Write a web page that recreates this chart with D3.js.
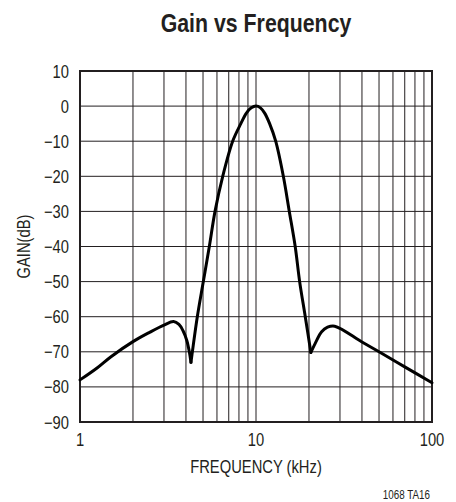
<!DOCTYPE html>
<html>
<head>
<meta charset="utf-8">
<script src="https://cdn.jsdelivr.net/npm/d3@7"></script>
<style>
  html, body { margin: 0; padding: 0; background: #fff; }
  svg { display: block; }
  text { font-family: "Liberation Sans", Arial, sans-serif; fill: #231f20; }
</style>
</head>
<body>
<div id="chart"></div>
<script>
// ---- data ----
const title = "Gain vs Frequency";
const xLabel = "FREQUENCY (kHz)";
const yLabel = "GAIN(dB)";
const footnote = "1068 TA16";
const xTicks = [1, 10, 100];
const yTicks = [10, 0, -10, -20, -30, -40, -50, -60, -70, -80, -90];
const freq = [1, 1.25, 1.5, 2, 2.5, 3, 3.4, 3.65, 3.85, 4.04, 4.18, 4.27,
              4.35, 4.64, 5.02, 5.43, 5.85, 6.47, 7.37, 8.2, 8.82, 9.4, 10, 10.6, 11.2, 11.95, 12.94,
              14.3, 15.46, 16.7, 17.7, 19.05, 20.5,
              21.7, 23.6, 25.5, 28, 40, 50, 70, 100];
const gain = [-78, -74.6, -71.4, -67.1, -64.4, -62.4, -61.4, -62.2, -64, -66.7, -70, -73,
              -70, -60, -50, -40, -30, -20, -10, -5, -2, -0.5, 0, -0.5, -2, -5, -10,
              -20, -30, -40, -50, -60, -70.2,
              -67.6, -64.3, -63.0, -62.7, -67.2, -70.0, -74.3, -78.8];
const notchIdx = [11, 32];

// ---- layout ----
const W = 456, H = 502;
const L = 80, R = 432, T = 71, B = 422;
const NARROW = 0.82;

const svg = d3.select("#chart").append("svg").attr("width", W).attr("height", H);

const x = d3.scaleLog().domain([1, 100]).range([L, R]);
const y = d3.scaleLinear().domain([-90, 10]).range([B, T]);

// grid
const minor = [];
for (let d = 1; d < 100; d *= 10) for (let k = 2; k <= 9; k++) minor.push(d * k);
minor.push(10);
svg.append("g").selectAll("line").data(minor).join("line")
  .attr("x1", d => x(d)).attr("x2", d => x(d)).attr("y1", T).attr("y2", B)
  .attr("stroke", "#231f20").attr("stroke-width", 1);
svg.append("g").selectAll("line").data(yTicks.slice(1, -1)).join("line")
  .attr("x1", L).attr("x2", R).attr("y1", d => y(d)).attr("y2", d => y(d))
  .attr("stroke", "#231f20").attr("stroke-width", 1);

// frame
svg.append("rect").attr("x", L).attr("y", T).attr("width", R - L).attr("height", B - T)
  .attr("fill", "none").attr("stroke", "#231f20").attr("stroke-width", 2);

// curve (split at notches to keep sharp cusps)
const pts = freq.map((f, i) => [f, gain[i]]);
const segs = [pts.slice(0, notchIdx[0] + 1), pts.slice(notchIdx[0], notchIdx[1] + 1), pts.slice(notchIdx[1])];
const line = d3.line().x(d => x(d[0])).y(d => y(d[1])).curve(d3.curveCatmullRom.alpha(0.5));
svg.append("g").selectAll("path").data(segs).join("path")
  .attr("d", line).attr("fill", "none").attr("stroke", "#000")
  .attr("stroke-width", 3).attr("stroke-linejoin", "round").attr("stroke-linecap", "round");

// text helper: condensed via horizontal scaling
function txt(px, py, s, size, anchor, extra) {
  const t = svg.append("text")
    .attr("transform", `translate(${px},${py}) ${extra || ""} scale(${NARROW},1)`)
    .attr("text-anchor", anchor).attr("font-size", size).text(s);
  return t;
}
const fmt = v => (v < 0 ? "\u2212" + Math.abs(v) : String(v));
yTicks.forEach(v => txt(69, y(v) + 6.5, fmt(v), 18, "end"));
xTicks.forEach(v => txt(x(v), 446, String(v), 18, "middle"));
txt((L + R) / 2, 473, xLabel, 18, "middle");
svg.append("text")
  .attr("transform", `translate(30,${(T + B) / 2}) rotate(-90) scale(${NARROW},1)`)
  .attr("text-anchor", "middle").attr("font-size", 18).text(yLabel);
txt((L + R) / 2, 32, title, 26, "middle").attr("font-weight", "bold");
txt(430, 498.5, footnote, 12, "end");
</script>
</body>
</html>
